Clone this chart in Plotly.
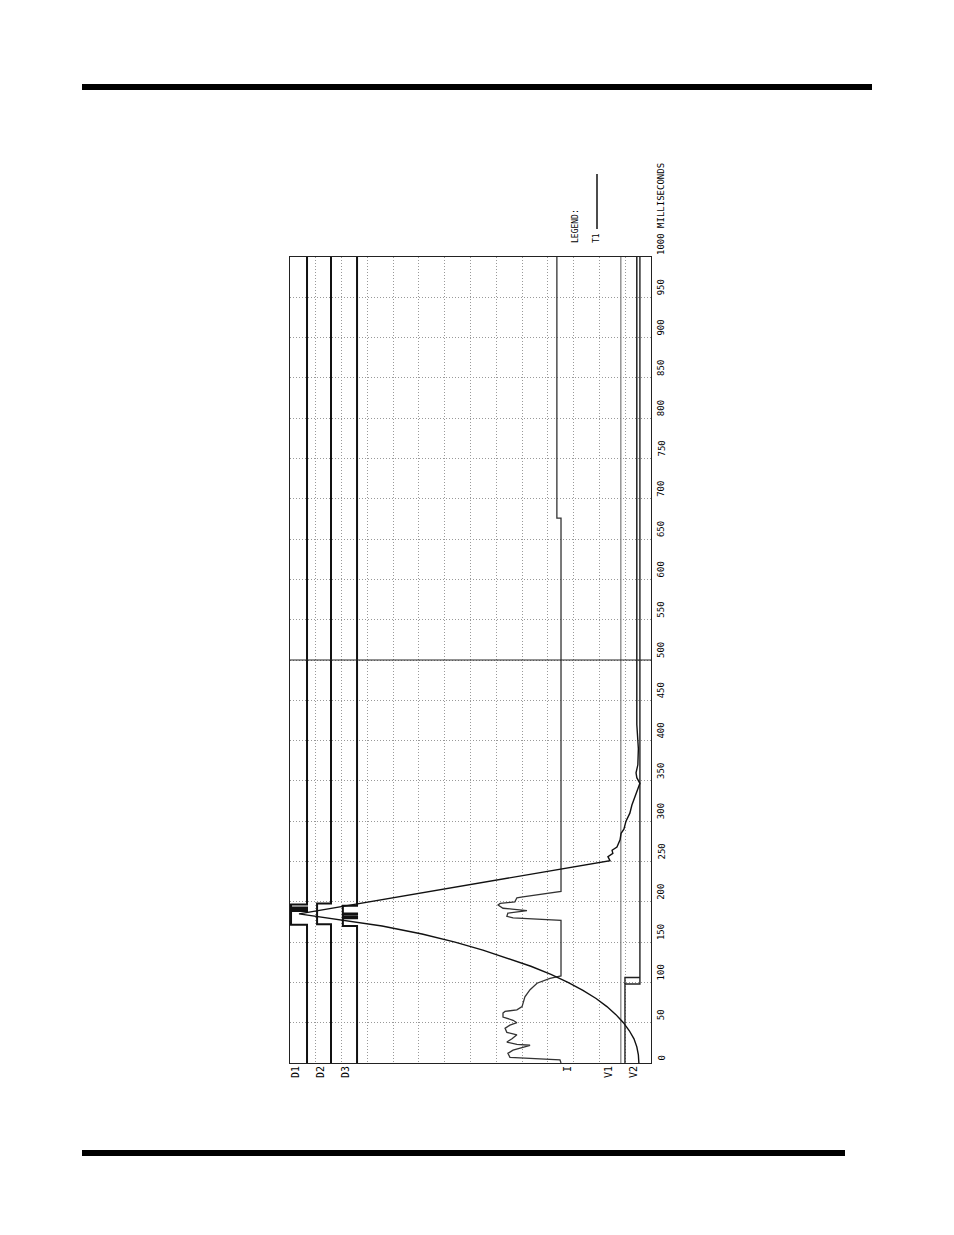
import plotly.graph_objects as go

# ---------------- data ----------------
# time axis (milliseconds)
tick_values = list(range(0, 1001, 50))
tick_labels = [str(v) for v in tick_values]
tick_labels[-1] = "1000 MILLISECONDS"
channel_names = ["D1", "D2", "D3", "I", "V1", "V2"]

# digital channels: transition times (ms) and state after transition (1 = idle, 0 = active)
d1_t = [0, 171.5, 188.5, 190, 191.5, 193, 196.5, 1000]
d1_s = [1, 0, 1, 0, 1, 0, 1, 1]
d2_t = [0, 172, 198, 1000]
d2_s = [1, 0, 1, 1]
d3_t = [0, 170, 179.5, 181, 184, 185.5, 195, 1000]
d3_s = [1, 0, 1, 0, 1, 0, 1, 1]

# T1 travel trace (time ms, chart divisions)
t1_t = [0, 10, 20, 30, 40, 50, 60, 70, 80, 90, 100, 110, 120, 130, 140, 150, 160, 170, 178, 185,
        251, 256, 260, 264, 268, 277, 285, 290, 300, 310, 320, 330, 340, 347, 354, 360, 370, 390, 420, 1000]
t1_x = [13.53, 13.51, 13.45, 13.34, 13.16, 12.93, 12.64, 12.29, 11.87, 11.36, 10.78, 10.12, 9.34, 8.45,
        7.48, 6.40, 5.12, 3.57, 1.94, 0.35,
        12.41, 12.33, 12.52, 12.49, 12.68, 12.80, 12.84, 12.95, 13.03, 13.18, 13.26, 13.38, 13.49, 13.57,
        13.45, 13.42, 13.49, 13.51, 13.45, 13.45]

# I (current) trace (time ms, chart divisions)
i_t = [0, 4, 7, 12, 16, 20, 22, 23, 26, 30, 35, 38, 43, 47, 50, 53, 57, 62, 64, 66, 70, 82, 91, 99,
       105, 108, 177, 180, 182, 186, 189, 191, 192, 196, 198, 200, 205, 206, 210, 213, 676, 676, 1000]
i_x = [10.51, 10.47, 8.53, 8.45, 8.65, 9.03, 9.31, 8.80, 8.41, 8.61, 8.80, 8.41, 8.34, 8.53, 8.80, 8.65,
       8.26, 8.26, 8.34, 8.80, 9.00, 9.11, 9.31, 9.58, 10.08, 10.51, 10.51, 8.65, 8.41, 8.45, 9.19,
       8.61, 8.26, 8.07, 8.15, 8.72, 8.80, 9.03, 9.96, 10.51, 10.51, 10.35, 10.35]

# V1 and V2 traces (time ms, chart divisions)
v1_t = [0, 1000]
v1_x = [12.83, 12.83]
v2_t = [0, 98, 98, 1000, None, 98, 106, 106]
v2_x = [12.99, 12.99, 13.57, 13.57, None, 12.99, 12.99, 13.57]

# ---------------- layout constants ----------------
PAGE_W, PAGE_H = 954, 1235
OFF = 8                       # default page body margin
PL, PR, PT, PB = 290, 651, 257, 1063   # plot area on the page
W, H = PAGE_W - OFF, PAGE_H - OFF
ML, MT = PL - OFF, PT - OFF
MR, MB = W - (PR - OFF), H - (PB - OFF)
XMAX = 14
FONT = "DejaVu Sans Mono"
d_levels = {"D1": (0.66, 0.04), "D2": (1.59, 1.05), "D3": (2.60, 2.05)}


def px_x(p):
    return (p - PL) / (PR - PL)


def px_y(p):
    return (PB - p) / (PB - PT)


def level(name, states):
    hi, lo = d_levels[name]
    return [hi if s else lo for s in states]


fig = go.Figure()
for name, tt, ss in (("D1", d1_t, d1_s), ("D2", d2_t, d2_s), ("D3", d3_t, d3_s)):
    fig.add_trace(go.Scatter(x=level(name, ss), y=tt, mode="lines", line_shape="vh",
                             line=dict(color="#111", width=2), name=name))

fig.add_trace(go.Scatter(x=v1_x, y=v1_t, mode="lines", line=dict(color="#777", width=1.2), name="V1"))
fig.add_trace(go.Scatter(x=v2_x, y=v2_t, mode="lines", line=dict(color="#222", width=1.4), name="V2"))
fig.add_trace(go.Scatter(x=i_x, y=i_t, mode="lines", line=dict(color="#333", width=1.3), name="I"))
fig.add_trace(go.Scatter(x=t1_x, y=t1_t, mode="lines", line=dict(color="#111", width=1.4), name="T1"))

annotations = []
# time tick labels (rotated, reading upward from each tick)
for v, lab in zip(tick_values, tick_labels):
    annotations.append(dict(x=px_x(661), y=v / 1000, xref="paper", yref="paper", text=lab,
                            showarrow=False, textangle=-90, xanchor="center", yanchor="bottom",
                            font=dict(family=FONT, size=9, color="#000")))
# channel labels under the plot
label_px = [295, 320, 345, 567, 608, 633]
for name, xp in zip(channel_names, label_px):
    annotations.append(dict(x=px_x(xp), y=0, xref="paper", yref="paper", text=name, showarrow=False,
                            textangle=-90, xanchor="center", yanchor="top", yshift=-1,
                            font=dict(family=FONT, size=10, color="#000")))
# legend block
annotations.append(dict(x=px_x(575), y=px_y(245), xref="paper", yref="paper", text="LEGEND:",
                        showarrow=False, textangle=-90, xanchor="center", yanchor="bottom",
                        font=dict(family=FONT, size=8, color="#000")))
annotations.append(dict(x=px_x(596), y=px_y(245), xref="paper", yref="paper", text="T1",
                        showarrow=False, textangle=-90, xanchor="center", yanchor="bottom",
                        font=dict(family=FONT, size=8, color="#000")))

shapes = [
    # 500 ms reference line
    dict(type="line", xref="x", yref="y", x0=0, x1=XMAX, y0=500, y1=500,
         line=dict(color="#222", width=1)),
    # legend sample line
    dict(type="line", xref="paper", yref="paper", x0=px_x(597), x1=px_x(597),
         y0=px_y(229), y1=px_y(174), line=dict(color="#111", width=1.5)),
    # page rules
    dict(type="rect", xref="paper", yref="paper", x0=px_x(82), x1=px_x(872),
         y0=px_y(90), y1=px_y(84), line=dict(width=0), fillcolor="#000"),
    dict(type="rect", xref="paper", yref="paper", x0=px_x(82), x1=px_x(845),
         y0=px_y(1156), y1=px_y(1150), line=dict(width=0), fillcolor="#000"),
]

fig.update_layout(
    width=W, height=H,
    margin=dict(l=ML, r=MR, t=MT, b=MB, pad=0),
    paper_bgcolor="white", plot_bgcolor="white",
    showlegend=False,
    annotations=annotations,
    shapes=shapes,
    xaxis=dict(range=[0, XMAX], dtick=1, showgrid=True, gridcolor="#999", griddash="1px,2px",
               gridwidth=1, showticklabels=False, ticks="", zeroline=False,
               showline=True, mirror=True, linecolor="#222", linewidth=1),
    yaxis=dict(range=[0, 1000], dtick=50, showgrid=True, gridcolor="#999", griddash="1px,2px",
               gridwidth=1, showticklabels=False, ticks="", zeroline=False,
               showline=True, mirror=True, linecolor="#222", linewidth=1),
)

fig.write_html("out.html")
